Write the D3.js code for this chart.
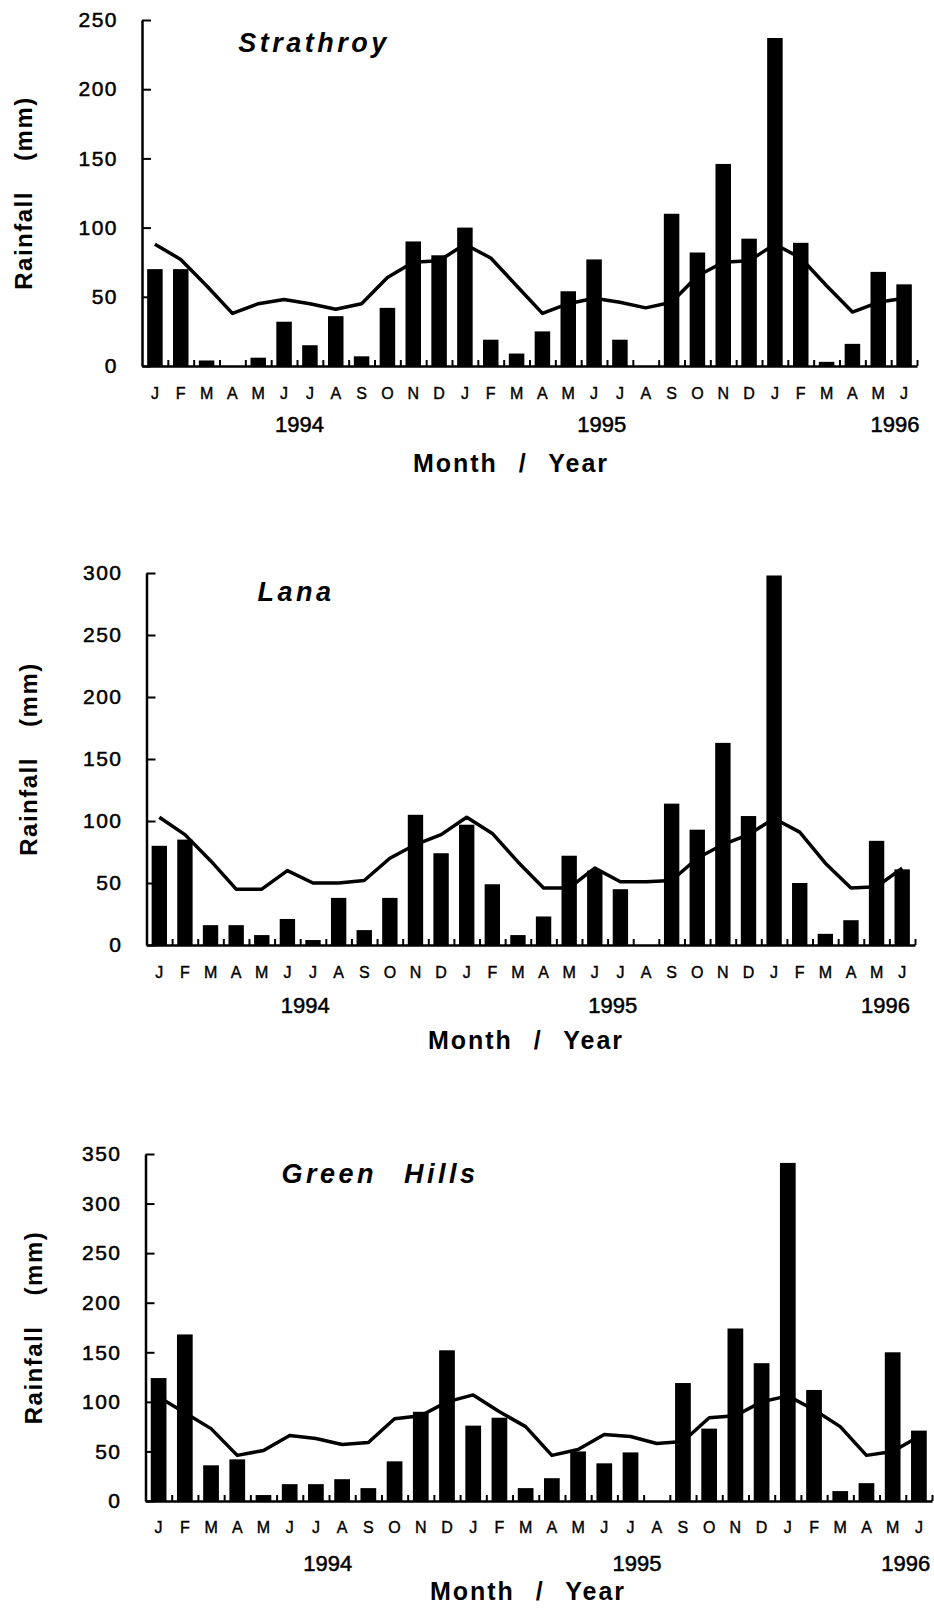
<!DOCTYPE html>
<meta charset="utf-8">
<style>
    body { margin: 0; background: #fff; }
    svg text { font-family: "Liberation Sans", Arial, Helvetica, sans-serif; fill: #000; }
    .axis path, .axis line { fill: none; stroke: #000; }
    .axis path { stroke-width: 2.5; }
    .axis line { stroke-width: 2; }
    .ylab text { font-size: 21px; letter-spacing: 1.5px; stroke: #000; stroke-width: 0.5px; }
    .mlab text { font-size: 16px; stroke: #000; stroke-width: 0.4px; }
    .year { font-size: 22px; stroke: #000; stroke-width: 0.5px; }
    .title { font-size: 27px; font-weight: bold; font-style: italic; letter-spacing: 3.5px; word-spacing: 16px; }
    .xtitle { font-size: 25px; font-weight: bold; letter-spacing: 2px; word-spacing: 12px; }
    .ytitle { font-size: 24px; font-weight: bold; letter-spacing: 1.5px; word-spacing: 22px; }
</style>
<body>
<script src="https://cdnjs.cloudflare.com/ajax/libs/d3/7.8.5/d3.min.js"></script>
<script>
    var months = ['J','F','M','A','M','J','J','A','S','O','N','D',
                  'J','F','M','A','M','J','J','A','S','O','N','D',
                  'J','F','M','A','M','J'];
    var years = ['1994', '1995', '1996'];

    // monthly rainfall (bars) and long-term monthly mean (line), Jan 1994 - Jun 1996
    var strathroyRain = [70, 70, 4, 0, 6, 32, 15, 36, 7, 42, 90, 80,
                         100, 19, 9, 25, 54, 77, 19, 0, 110, 82, 146, 92,
                         237, 89, 3, 16, 68, 59];
    var strathroyMean = [88, 77, 58, 38, 45, 48, 45, 41, 45, 64, 75, 76,
                         88, 78, 58, 38, 45, 49, 46, 42, 46, 65, 75, 76,
                         88, 78, 58, 39, 46, 49];

    var lanaRain = [80, 85, 16, 16, 8, 21, 4, 38, 12, 38, 105, 74,
                    97, 49, 8, 23, 72, 60, 45, 0, 114, 93, 163, 104,
                    298, 50, 9, 20, 84, 61];
    var lanaMean = [103, 89, 68, 45, 45, 60, 50, 50, 52, 70, 81, 89,
                    103, 90, 67, 46, 46, 62, 51, 51, 52, 70, 81, 89,
                    102, 91, 66, 46, 47, 62];

    var greenRain = [124, 168, 36, 42, 6, 17, 17, 22, 13, 40, 90, 152,
                     76, 84, 13, 23, 50, 38, 49, 0, 119, 73, 174, 139,
                     341, 112, 10, 18, 150, 71];
    var greenMean = [105, 89, 73, 46, 51, 66, 63, 57, 59, 83, 86, 100,
                     107, 90, 75, 46, 52, 67, 65, 58, 60, 84, 86, 100,
                     106, 92, 75, 46, 50, 65];

    var panels = [
        {name: 'Strathroy', rain: strathroyRain, mean: strathroyMean, yMax: 250,
         left: 142, right: 917, top: 20, bottom: 366,
         titleX: 314, titleY: 52, monthY: 399, yearY: 432, xTitleX: 511, xTitleY: 472, yTitleX: 23, yearAt: [5.6, 17.3, 28.65]},
        {name: 'Lana', rain: lanaRain, mean: lanaMean, yMax: 300,
         left: 146.5, right: 915, top: 573, bottom: 945,
         titleX: 296, titleY: 601, monthY: 978, yearY: 1013, xTitleX: 526, xTitleY: 1049, yTitleX: 28, yearAt: [5.7, 17.7, 28.35]},
        {name: 'Green Hills', rain: greenRain, mean: greenMean, yMax: 350,
         left: 145.5, right: 932, top: 1154, bottom: 1501,
         titleX: 380, titleY: 1183, monthY: 1533, yearY: 1571, xTitleX: 528, xTitleY: 1600, yTitleX: 33, yearAt: [6.45, 18.25, 28.5]}
    ];

    var svg = d3.select('body')
        .append('svg')
        .attr('width', 934)
        .attr('height', 1609);

    panels.forEach(drawPanel);

    function drawPanel(p) {
        var n = months.length;
        var idx = d3.range(n);

        var x = d3.scaleBand()
            .domain(idx)
            .range([p.left, p.right])
            .paddingInner(0.4)
            .paddingOuter(0.2);

        var edges = d3.scaleLinear()
            .domain([0, n])
            .range([p.left, p.right]);

        var y = d3.scaleLinear()
            .domain([0, p.yMax])
            .range([p.bottom, p.top]);

        var g = svg.append('g');

        g.selectAll('rect')
            .data(p.rain)
            .enter().append('rect')
            .attr('x', function(d, i) { return x(i); })
            .attr('width', x.bandwidth())
            .attr('y', function(d) { return y(d); })
            .attr('height', function(d) { return y(0) - y(d); })
            .attr('fill', '#000');

        var line = d3.line()
            .x(function(d, i) { return x(i) + x.bandwidth() / 2; })
            .y(function(d) { return y(d); });

        g.append('path')
            .datum(p.mean)
            .attr('d', line)
            .attr('fill', 'none')
            .attr('stroke', '#000')
            .attr('stroke-width', 3.5)
            .attr('stroke-linejoin', 'round');

        // x axis line with small inward ticks between months
        g.append('g')
            .attr('class', 'axis')
            .attr('transform', 'translate(0,' + p.bottom + ')')
            .call(d3.axisBottom(edges)
                .tickValues(d3.range(1, n + 1))
                .tickSizeInner(-6)
                .tickSizeOuter(0)
                .tickFormat(''));

        // month letters
        var ml = g.append('g')
            .attr('class', 'mlab')
            .attr('transform', 'translate(0,' + p.monthY + ')')
            .call(d3.axisBottom(x)
                .tickSize(0)
                .tickPadding(0)
                .tickFormat(function(i) { return months[i]; }));
        ml.select('.domain').remove();
        ml.attr('font-family', null).attr('font-size', null);
        ml.selectAll('text').attr('dy', 0).attr('y', 0);

        var ya = g.append('g')
            .attr('class', 'axis ylab')
            .attr('transform', 'translate(' + p.left + ',0)')
            .call(d3.axisLeft(y)
                .tickValues(d3.range(0, p.yMax + 1, 50))
                .tickSizeInner(-9)
                .tickSizeOuter(0)
                .tickPadding(24));
        ya.attr('font-family', null).attr('font-size', null);

        g.selectAll('.year')
            .data(years)
            .enter().append('text')
            .attr('class', 'year')
            .attr('text-anchor', 'middle')
            .attr('x', function(d, i) { return x(0) + x.bandwidth() / 2 + p.yearAt[i] * x.step(); })
            .attr('y', p.yearY)
            .text(function(d) { return d; });

        g.append('text')
            .attr('class', 'title')
            .attr('text-anchor', 'middle')
            .attr('x', p.titleX)
            .attr('y', p.titleY)
            .text(p.name);

        g.append('text')
            .attr('class', 'xtitle')
            .attr('text-anchor', 'middle')
            .attr('x', p.xTitleX)
            .attr('y', p.xTitleY)
            .text('Month / Year');

        g.append('text')
            .attr('class', 'ytitle')
            .attr('text-anchor', 'middle')
            .attr('transform', 'translate(' + (p.yTitleX + 9) + ',' + ((p.top + p.bottom) / 2) + ') rotate(-90)')
            .text('Rainfall (mm)');
    }
</script>
</body>
